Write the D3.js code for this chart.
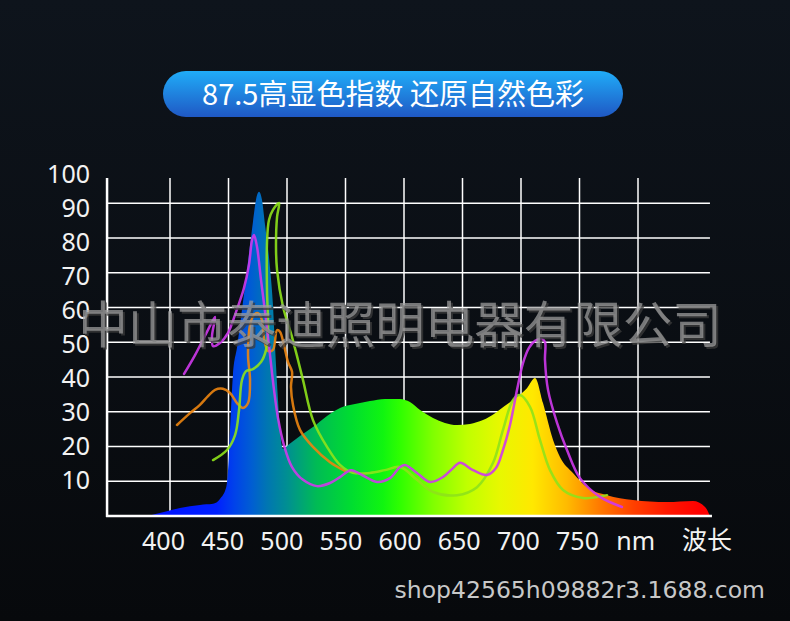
<!DOCTYPE html>
<html>
<head>
<meta charset="utf-8">
<script src="https://cdn.jsdelivr.net/npm/d3@7"></script>
<style>
  html, body { margin: 0; padding: 0; background: #0a0e13; }
  svg { display: block; }
</style>
</head>
<body>
<svg id="chart" width="790" height="621"></svg>
<script>
// chart data: [wavelength nm, relative intensity]
const titleText = "87.5高显色指数 还原自然色彩";
const watermark = "中山市泰迪照明电器有限公司";
const shopText = "shop42565h09882r3.1688.com";

const yTicks = [10, 20, 30, 40, 50, 60, 70, 80, 90, 100];
const yGrid = [10, 20, 30, 40, 50, 60, 70, 80, 90];
const xTicks = [400, 450, 500, 550, 600, 650, 700, 750];
const xGrid = [400, 450, 500, 550, 600, 650, 700, 750, 800];

const spectrum = [
  [381.2, 0], [395.7, 1.2], [408.5, 2.3], [425.6, 3.2], [436.8, 3.5], [442.7, 4.9],
  [447.9, 8.1], [449.6, 13.2], [451.3, 24.8], [453.8, 40.6], [457.3, 48.6], [461.5, 59.3],
  [465.8, 70.8], [470.9, 84.6], [473.5, 91.0], [476.1, 93.3], [478.6, 91.0], [481.2, 83.8],
  [485.5, 71.4], [488.0, 60.7], [489.7, 49.2], [492.3, 33.4], [494.0, 24.8], [496.6, 19.3],
  [500.9, 20.4], [511.1, 23.0], [522.2, 25.6], [534.2, 28.8], [545.3, 31.1], [558.1, 32.2],
  [570.9, 33.1], [583.8, 33.7], [596.6, 33.7], [605.1, 32.8], [613.7, 30.5], [624.8, 28.2],
  [635.0, 26.8], [645.3, 26.2], [656.4, 26.5], [667.5, 27.6], [677.8, 29.6], [686.3, 31.7],
  [696.6, 34.3], [705.1, 36.8], [712.0, 39.7], [718.8, 32.5], [727.4, 21.9], [733.3, 17.0],
  [744.4, 12.4], [756.4, 8.3], [773.5, 6.0], [795.7, 4.6], [824.8, 4.0], [847.0, 4.3],
  [857.3, 2.6], [861.5, 0]
];

const purple = [
  [412.0, 40.9], [421.4, 46.3], [431.6, 53.0], [438.5, 57.3], [435.9, 51.8], [436.8, 48.9],
  [442.7, 49.8], [449.6, 52.7], [456.4, 58.7], [463.2, 65.6], [467.5, 72.3], [470.1, 79.4],
  [471.8, 80.9], [474.4, 77.4], [477.8, 67.9], [482.1, 56.4], [485.5, 46.3], [488.9, 36.3],
  [492.3, 28.2], [497.4, 20.4], [504.3, 14.1], [513.7, 10.4], [525.6, 8.6], [536.8, 9.5],
  [545.3, 11.2], [554.7, 13.2], [564.1, 11.8], [576.9, 9.8], [588.0, 10.9], [596.6, 14.1],
  [600.9, 14.7], [611.1, 12.4], [622.2, 9.8], [633.3, 11.2], [641.0, 13.5], [647.9, 15.3],
  [659.0, 13.2], [670.9, 11.8], [678.6, 13.8], [684.6, 19.0], [690.6, 26.2], [696.6, 36.3],
  [701.7, 44.0], [706.8, 48.4], [712.0, 50.4], [718.0, 50.9], [720.5, 50.1], [720.5, 44.9],
  [723.1, 36.3], [730.8, 26.8], [739.3, 19.0], [750.4, 10.9], [767.5, 5.5], [786.3, 2.6]
];

const orange = [
  [406.0, 26.2], [417.1, 29.6], [425.6, 32.0], [432.5, 34.5], [438.5, 36.3], [445.3, 36.6],
  [451.3, 35.4], [457.3, 32.5], [462.4, 31.1], [466.7, 32.5], [468.4, 39.1], [466.7, 46.3],
  [468.4, 55.0], [471.8, 57.9], [475.2, 58.4], [478.6, 56.4], [480.3, 51.2], [483.8, 47.5],
  [488.0, 47.8], [491.5, 53.5], [494.0, 53.0], [497.4, 49.2], [500.9, 44.3], [504.3, 41.5],
  [503.4, 37.1], [505.1, 32.0], [511.1, 24.8], [522.2, 19.9], [536.8, 15.5], [549.6, 13.0]
];

const green = [
  [436.8, 16.1], [448.7, 19.0], [455.6, 23.3], [459.0, 30.5], [461.5, 39.1], [465.0, 41.7],
  [470.9, 42.3], [477.8, 44.3], [482.1, 47.8], [483.8, 53.5], [482.9, 65.1], [482.9, 78.6],
  [484.6, 85.2], [488.0, 88.1], [493.2, 90.1], [491.5, 86.1], [490.6, 77.4], [491.5, 70.8],
  [496.6, 60.2], [504.3, 51.5], [509.4, 44.9], [513.7, 39.1], [522.2, 27.6], [534.2, 19.9],
  [545.3, 14.7], [556.4, 12.4], [570.9, 12.4], [583.8, 13.2], [596.6, 14.1], [611.1, 10.4],
  [624.8, 6.9], [645.3, 6.0], [662.4, 8.3], [676.1, 15.3], [684.6, 24.8], [693.2, 33.4],
  [699.1, 34.8], [707.7, 31.4], [716.2, 21.9], [724.8, 13.2], [735.9, 7.5], [753.0, 5.2],
  [773.5, 6.0]
];

// colour of the spectrum by wavelength
const specStops = [
  [381, "#0010ff"], [440, "#0020ff"], [455, "#0042ea"], [470, "#005ed2"], [483, "#0076b2"],
  [500, "#008f92"], [525, "#00bb55"], [555, "#00dd30"], [582, "#10f510"], [597, "#30ff00"],
  [625, "#80ff00"], [654, "#c0ff00"], [682, "#e8f800"], [710, "#ffe800"], [739, "#ffbb00"],
  [767, "#ff7a00"], [796, "#ff4000"], [825, "#ff1800"], [853, "#ff0000"]
];

const svg = d3.select("#chart");
const W = 790, H = 621;

// scales
const x = d3.scaleLinear().domain([400, 800]).range([170, 638]);
const y = d3.scaleLinear().domain([0, 90]).range([516, 203.3]);
const xMin = 346.2, xMax = 861.5, yTop = 97.3;
// label positions don't line up perfectly with the grid in the original
const yLab = d3.scaleLinear().domain([10, 100]).range([480, 174]);
const xLab = d3.scaleLinear().domain([400, 750]).range([163.5, 577.5]);

const defs = svg.append("defs");

const bg = defs.append("linearGradient").attr("id", "bg")
  .attr("x1", 0).attr("y1", 0).attr("x2", 0).attr("y2", 1);
bg.append("stop").attr("offset", "0%").attr("stop-color", "#0e141c");
bg.append("stop").attr("offset", "100%").attr("stop-color", "#07090c");

const pill = defs.append("linearGradient").attr("id", "pill")
  .attr("x1", 0).attr("y1", 0).attr("x2", 0).attr("y2", 1);
pill.append("stop").attr("offset", "0%").attr("stop-color", "#20acf8");
pill.append("stop").attr("offset", "100%").attr("stop-color", "#1f58c4");

const spec = defs.append("linearGradient").attr("id", "spec")
  .attr("gradientUnits", "userSpaceOnUse")
  .attr("x1", x(381)).attr("x2", x(853)).attr("y1", 0).attr("y2", 0);
spec.selectAll("stop").data(specStops).enter().append("stop")
  .attr("offset", d => (d[0] - 381) / (853 - 381))
  .attr("stop-color", d => d[1]);

svg.append("rect").attr("width", W).attr("height", H).attr("fill", "url(#bg)");

// title pill
svg.append("rect")
  .attr("x", 163).attr("y", 71).attr("width", 460).attr("height", 46)
  .attr("rx", 23).attr("fill", "url(#pill)");
svg.append("text")
  .attr("x", 393).attr("y", 105)
  .attr("text-anchor", "middle")
  .attr("font-family", "'Noto Sans CJK SC', 'Noto Sans', sans-serif")
  .attr("font-size", 29)
  .attr("fill", "#ffffff")
  .text(titleText);

// grid
const grid = svg.append("g").attr("stroke", "#ffffff").attr("stroke-width", 1.5);
grid.selectAll(".h").data(yGrid).enter().append("line")
  .attr("x1", x(xMin)).attr("x2", x(xMax))
  .attr("y1", d => y(d)).attr("y2", d => y(d));
grid.selectAll(".v").data(xGrid).enter().append("line")
  .attr("x1", d => x(d)).attr("x2", d => x(d))
  .attr("y1", y(yTop)).attr("y2", y(0));

// spectrum fill
const area = d3.area()
  .x(d => x(d[0]))
  .y0(y(0))
  .y1(d => y(d[1]))
  .curve(d3.curveMonotoneX);
svg.append("path").datum(spectrum)
  .attr("d", area)
  .attr("fill", "url(#spec)");

// axis lines
svg.append("line")
  .attr("x1", x(xMin)).attr("x2", x(xMin))
  .attr("y1", y(yTop)).attr("y2", y(0) + 1)
  .attr("stroke", "#ffffff").attr("stroke-width", 2.5);
svg.append("line")
  .attr("x1", x(xMin) - 1).attr("x2", x(xMax) + 2)
  .attr("y1", y(0)).attr("y2", y(0))
  .attr("stroke", "#ffffff").attr("stroke-width", 2.5);

// curves
const line = d3.line()
  .x(d => x(d[0]))
  .y(d => y(d[1]))
  .curve(d3.curveCatmullRom.alpha(0.5));
[[orange, "#ec8410"], [green, "#8ee21a"], [purple, "#cf38ec"]].forEach(s => {
  svg.append("path").datum(s[0])
    .attr("d", line)
    .attr("fill", "none")
    .attr("stroke", s[1])
    .attr("stroke-width", 2.5)
    .attr("stroke-opacity", 0.9)
    .attr("stroke-linecap", "round");
});

// y labels
svg.append("g").selectAll("text").data(yTicks).enter().append("text")
  .attr("x", 90)
  .attr("y", d => yLab(d) + 9)
  .attr("text-anchor", "end")
  .attr("font-family", "'Noto Sans', sans-serif")
  .attr("font-size", 25)
  .attr("fill", "#f2f2f2")
  .text(d => d);

// x labels
const xl = svg.append("g")
  .attr("font-family", "'Noto Sans', sans-serif")
  .attr("font-size", 25)
  .attr("fill", "#f2f2f2")
  .attr("text-anchor", "middle");
xl.selectAll("text").data(xTicks).enter().append("text")
  .attr("x", d => xLab(d))
  .attr("y", 550)
  .text(d => d);
xl.append("text").attr("x", xLab(800) - 1).attr("y", 550).text("nm");
xl.append("text").attr("x", 707).attr("y", 549)
  .attr("font-family", "'Noto Sans CJK SC', sans-serif")
  .text("波长");

// watermark across the chart
const wm = svg.append("g")
  .attr("font-family", "'Noto Sans CJK SC', sans-serif")
  .attr("font-size", 49.5)
  .attr("text-anchor", "middle");
wm.append("text").attr("x", 402).attr("y", 345)
  .attr("fill", "#3c3c3c").attr("fill-opacity", 0.75)
  .text(watermark);
wm.append("text").attr("x", 400).attr("y", 343)
  .attr("fill", "#a0a0a0").attr("fill-opacity", 0.72)
  .text(watermark);

svg.append("text")
  .attr("x", 765).attr("y", 598)
  .attr("text-anchor", "end")
  .attr("font-family", "'DejaVu Sans', sans-serif")
  .attr("font-size", 23.5)
  .attr("fill", "#c8c8c8")
  .text(shopText);
</script>
</body>
</html>
